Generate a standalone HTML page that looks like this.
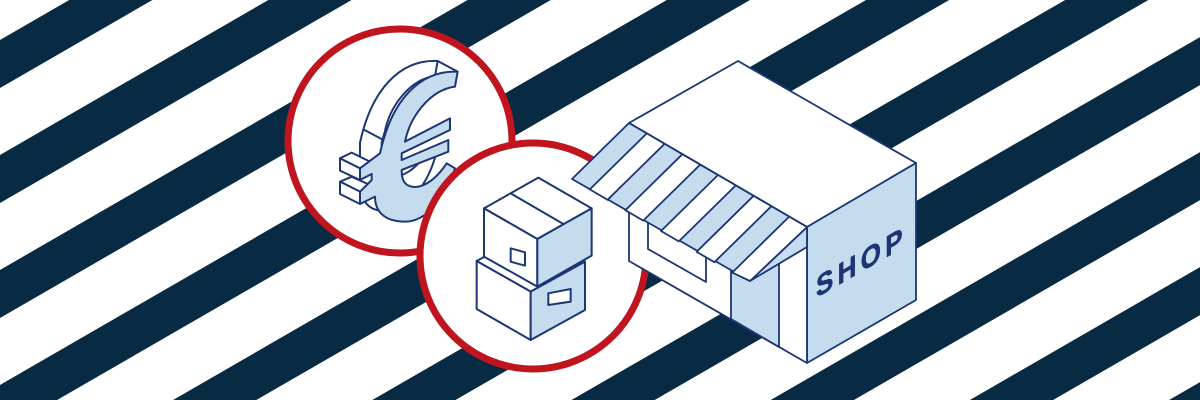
<!DOCTYPE html>
<html><head><meta charset="utf-8"><style>html,body{margin:0;padding:0;background:#fff;width:1200px;height:400px;overflow:hidden}svg{display:block}</style></head>
<body>
<svg width="1200" height="400" viewBox="0 0 1200 400" xmlns="http://www.w3.org/2000/svg">
<rect width="1200" height="400" fill="#fff"/>
<g stroke="#082a43" stroke-width="41.6">
<line x1="-100" y1="121.7" x2="1400" y2="-744.3"/>
<line x1="-100" y1="236.7" x2="1400" y2="-629.3"/>
<line x1="-100" y1="351.7" x2="1400" y2="-514.3"/>
<line x1="-100" y1="466.7" x2="1400" y2="-399.3"/>
<line x1="-100" y1="581.7" x2="1400" y2="-284.3"/>
<line x1="-100" y1="696.7" x2="1400" y2="-169.3"/>
<line x1="-100" y1="811.7" x2="1400" y2="-54.3"/>
<line x1="-100" y1="926.7" x2="1400" y2="60.7"/>
<line x1="-100" y1="1041.7" x2="1400" y2="175.7"/>
<line x1="-100" y1="1156.7" x2="1400" y2="290.7"/>
<line x1="-100" y1="1271.7" x2="1400" y2="405.7"/>
<line x1="-100" y1="1386.7" x2="1400" y2="520.7"/>
</g>
<circle cx="400" cy="141" r="112" fill="#fff" stroke="#c0141f" stroke-width="7"/>
<g transform="translate(320,40) scale(0.3333)" stroke="#1c3575" stroke-width="6" stroke-linejoin="round">
<path transform="translate(-60,-32)" fill="#fff" d="M413,95 C300,90 215,180 180,340 L180,430 C175,510 200,545 255,545 C320,545 380,470 405,385 L380,370 C340,430 300,445 275,440 C250,435 245,415 245,390 L245,340 L255,305 C270,230 330,150 405,140 Z"/>
<line x1="413" y1="95" x2="353" y2="63"/>
<line x1="190" y1="300" x2="130" y2="268"/>
<path fill="#fff" d="M60,355 L95,338 L150,365 L150,385 L120,385 L120,390 Z"/>
<path fill="#fff" d="M60,355 L120,385 L120,420 L60,392 Z"/>
<path fill="#fff" d="M60,425 L95,410 L150,435 L120,455 Z"/>
<path fill="#fff" d="M60,425 L120,455 L120,492 L60,462 Z"/>
<path fill="#c5dcef" d="M413,95 C300,90 215,180 180,340 L120,385 L120,420 L155,402 L155,420 L120,455 L120,492 L165,470 C165,520 200,545 255,545 C320,545 380,470 405,385 L380,370 C340,430 300,445 275,440 C250,435 245,415 245,390 L385,335 L385,300 L245,360 L245,340 L390,270 L390,235 L255,305 C270,230 330,150 405,140 Z"/>
</g>
<circle cx="533" cy="256" r="113" fill="#fff" stroke="#c0141f" stroke-width="7"/>
<g transform="translate(460,165) scale(0.3333)" stroke="#1c3575" stroke-width="6" stroke-linejoin="round">
<path fill="#fff" d="M50,288 L215,198 L375,290 L212,380 Z"/>
<path fill="#fff" d="M50,288 L212,380 L212,525 L50,432 Z"/>
<path fill="#c5dcef" d="M212,380 L375,290 L375,435 L212,525 Z"/>
<path fill="#fff" d="M265,385 L332,372 L332,410 L265,420 Z"/>
<path fill="#fff" d="M72,130 L235,38 L395,130 L232,222 Z"/>
<path fill="#fff" d="M72,130 L232,222 L232,365 L72,275 Z"/>
<path fill="#c5dcef" d="M232,222 L395,130 L395,272 L232,365 Z"/>
<line x1="152" y1="85" x2="312" y2="178"/>
<path fill="#fff" d="M152,250 L195,262 L195,302 L152,290 Z"/>
</g>
<g stroke="#1c3575" stroke-width="1.8" stroke-linejoin="round">
<path fill="#fff" d="M629,123 L738,61 L916,163 L807,227 Z"/>
<path fill="#c5dcef" d="M807,227 L916,163 L916,300 L807,363 Z"/>
<path fill="#fff" d="M629,123 L807,227 L807,363 L629,261 Z"/>
<path fill="#fff" d="M648,223 L648,249 L706,282 L706,257"/>
<path fill="#c5dcef" d="M731,270 L779,264 L779,347 L731,319 Z"/>
<path fill="#c5dcef" d="M807,227 L750,281 L807,247 Z"/>
<path fill="#c5dcef" d="M629,123 L807,227 L750,281 L572,179 Z"/>
<g fill="#fff">
<path d="M646.8,133.4 L664.6,143.8 L607.6,199.8 L589.8,189.4 Z"/>
<path d="M682.4,154.2 L700.2,164.6 L643.2,220.6 L625.4,210.2 Z"/>
<path d="M718,175 L735.8,185.4 L678.8,241.4 L661,231 Z"/>
<path d="M753.6,195.8 L771.4,206.2 L714.4,262.2 L696.6,251.8 Z"/>
<path d="M789.2,216.6 L807,227 L750,281 L732.2,272.6 Z"/>
</g>
<text transform="matrix(0.866,-0.5,0,1,816,298)" font-family="Liberation Sans, sans-serif" font-weight="bold" font-size="30" letter-spacing="5" fill="#1c3575" stroke="#1c3575" stroke-width="0.6">SHOP</text>
</g>
</svg>
</body></html>
